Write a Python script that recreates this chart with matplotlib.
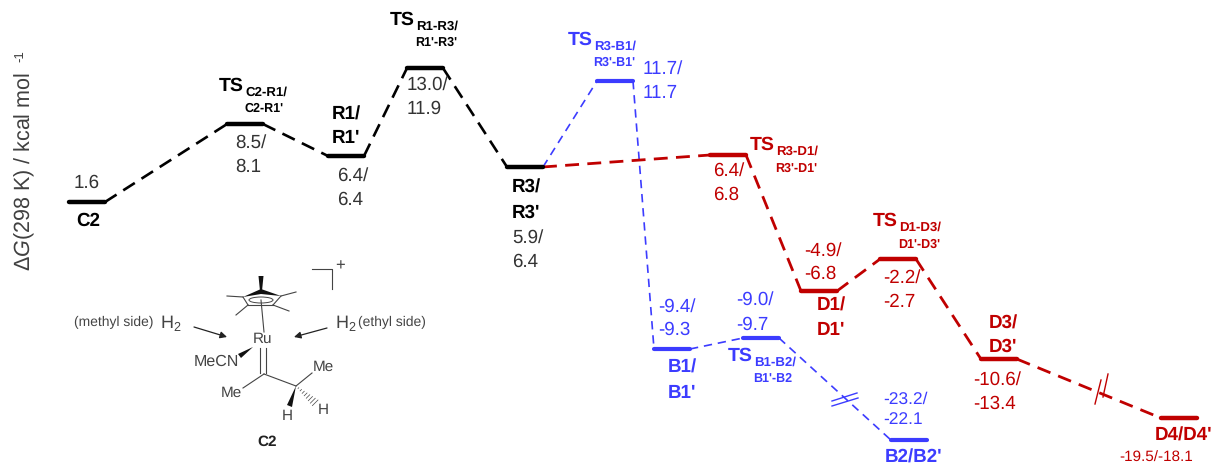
#!/usr/bin/python3

import matplotlib
matplotlib.use('Agg')
import matplotlib.pyplot as plt
from matplotlib.patches import Ellipse, Polygon

plt.rcParams['font.family'] = ['Liberation Sans', 'DejaVu Sans']
plt.rcParams['mathtext.fontset'] = 'custom'
plt.rcParams['mathtext.rm'] = 'Liberation Sans'
plt.rcParams['mathtext.it'] = 'Liberation Sans:italic'
plt.rcParams['mathtext.bf'] = 'Liberation Sans:bold'
plt.rcParams['text.hinting'] = 'no_hinting'

BLACK = '#000000'
BLUE = '#3c3cff'
RED = '#c00000'
GREY = '#333333'

# states along the reaction coordinate, level height as drawn (kcal/mol)
states = ['C2', 'TS_C2R1', 'R1', 'TS_R1R3', 'R3', 'TS_R3B1', 'B1', 'TS_B1B2', 'B2',
          'TS_R3D1', 'D1', 'TS_D1D3', 'D3', 'D4']
coord = [87, 245, 346, 425, 525, 615, 672, 761, 909, 728, 819, 898, 999, 1179]
drawn_g = [2.12, 8.44, 5.85, 12.98, 4.96, 11.93, -9.80, -8.91, -17.19,
           5.93, -5.10, -2.51, -10.62, -15.40]

black_path = ['C2', 'TS_C2R1', 'R1', 'TS_R1R3', 'R3']
blue_path = ['R3', 'TS_R3B1', 'B1', 'TS_B1B2', 'B2']
red_path = ['R3', 'TS_R3D1', 'D1', 'TS_D1D3', 'D3', 'D4']

half_width = 18

fig = plt.figure(figsize=(12.17, 4.67), dpi=100)
ax = fig.add_axes([0, 0, 1, 1])
ax.set_xlim(0, 1217)
ax.set_ylim(-19.37, 18.5)
ax.axis('off')

# pixel overlay for the texts and the molecule
ov = fig.add_axes([0, 0, 1, 1])
ov.set_xlim(0, 1217)
ov.set_ylim(467, 0)
ov.axis('off')
ov.patch.set_alpha(0)

pos = dict(zip(states, zip(coord, drawn_g)))


def draw_path(path, color, lw, dashes, level_lw):
    for a, b in zip(path[:-1], path[1:]):
        xa, ya = pos[a]
        xb, yb = pos[b]
        ax.plot([xa + half_width, xb - half_width], [ya, yb], color=color, lw=lw,
                dashes=dashes, dash_capstyle='butt')
    for s in path[1:]:
        x, y = pos[s]
        ax.plot([x - half_width, x + half_width], [y, y], color=color, lw=level_lw,
                solid_capstyle='round')


draw_path(blue_path, BLUE, 1.2, (5, 3.5), 3.0)
draw_path(red_path, RED, 2.0, (5, 3), 3.2)
draw_path(black_path, BLACK, 1.9, (5.2, 3), 3.2)
ax.plot([pos['C2'][0] - half_width, pos['C2'][0] + half_width], [pos['C2'][1]] * 2,
        color=BLACK, lw=3.2, solid_capstyle='round')


def txt(x, y, s, color=GREY, size=13.5, weight='normal', ha='left'):
    ov.text(x, y, s, color=color, fontsize=size, fontweight=weight, ha=ha, va='center')


def ts(x, y, sub1, sub2, color):
    txt(x, y, 'TS', color, 14, 'bold')
    txt(x + 26, y + 6, sub1, color, 9.5, 'bold')
    txt(x + 25, y + 23, sub2, color, 9, 'bold')


ov.text(25, 271, r'$\Delta G$(298 K) / kcal mol', color='#404040', fontsize=15.5,
        rotation=90, ha='center', va='bottom')
ov.text(20, 50, '-1', color='#404040', fontsize=9.5, rotation=90, ha='center', va='top')

# black part
txt(74, 183, '1.6')
txt(76, 221, 'C2', BLACK, 13.5, 'bold')
ts(219, 86, 'C2-R1/', "C2-R1'", BLACK)
txt(235, 143, '8.5/')
txt(235, 167, '8.1')
txt(332, 115, 'R1/', BLACK, 13.5, 'bold')
txt(332, 138, "R1'", BLACK, 13.5, 'bold')
txt(337, 176, '6.4/')
txt(337, 200, '6.4')
ts(390, 20, 'R1-R3/', "R1'-R3'", BLACK)
txt(407, 85, '13.0/')
txt(407, 109, '11.9')
txt(512, 188, 'R3/', BLACK, 13.5, 'bold')
txt(512, 213, "R3'", BLACK, 13.5, 'bold')
txt(512, 238, '5.9/')
txt(512, 262, '6.4')

# blue part
ts(568, 40, 'R3-B1/', "R3'-B1'", BLUE)
txt(643, 69, '11.7/', BLUE)
txt(643, 93, '11.7', BLUE)
txt(658, 307, '-9.4/', BLUE)
txt(658, 330, '-9.3', BLUE)
txt(668, 368, 'B1/', BLUE, 13.5, 'bold')
txt(668, 393, "B1'", BLUE, 13.5, 'bold')
txt(736, 300, '-9.0/', BLUE)
txt(736, 325, '-9.7', BLUE)
ts(728, 356, 'B1-B2/', "B1'-B2", BLUE)
txt(883, 399, '-23.2/', BLUE, 12.5)
txt(883, 420, '-22.1', BLUE, 12.5)
txt(885, 458, "B2/B2'", BLUE, 13.5, 'bold')
ov.plot([832, 857], [401, 393], color=BLUE, lw=1)
ov.plot([832, 858], [406, 398], color=BLUE, lw=1)

# red part
ts(750, 145, 'R3-D1/', "R3'-D1'", RED)
txt(713, 171, '6.4/', RED)
txt(713, 195, '6.8', RED)
txt(804, 251, '-4.9/', RED)
txt(804, 274, '-6.8', RED)
txt(817, 306, 'D1/', RED, 13.5, 'bold')
txt(817, 330, "D1'", RED, 13.5, 'bold')
ts(873, 221, 'D1-D3/', "D1'-D3'", RED)
txt(883, 278, '-2.2/', RED)
txt(883, 302, '-2.7', RED)
txt(989, 324, 'D3/', RED, 13.5, 'bold')
txt(989, 347, "D3'", RED, 13.5, 'bold')
txt(973, 380, '-10.6/', RED)
txt(973, 404, '-13.4', RED)
txt(1155, 436, "D4/D4'", RED, 13.5, 'bold')
txt(1119, 458, '-19.5/-18.1', RED, 11)
ov.plot([1095, 1101], [404, 380], color=RED, lw=1)
ov.plot([1103, 1108], [397, 374], color=RED, lw=1)

# molecule
MOL = '#444444'
txt(74, 322, '(methyl side)', MOL, 10)
txt(160, 323, r'H$_2$', MOL, 13)
txt(335, 323, r'H$_2$', MOL, 13)
txt(358, 322, '(ethyl side)', MOL, 10)
txt(263, 339, 'Ru', MOL, 11, ha='center')
txt(216, 362, 'MeCN', MOL, 11.5, ha='center')
txt(323, 367, 'Me', MOL, 11, ha='center')
txt(231, 393, 'Me', MOL, 11, ha='center')
txt(287, 416, 'H', MOL, 11, ha='center')
txt(323, 410, 'H', MOL, 11, ha='center')
txt(267, 442, 'C2', '#222222', 11, 'bold', ha='center')
txt(340, 266, '+', MOL, 12, ha='center')

ov.plot([312, 332, 332], [269, 269, 289], color=MOL, lw=0.8)
for xs, ys in [([227, 243], [296, 297]), ([296, 281], [292, 296]), ([236, 248], [315, 305]),
               ([289, 273], [311, 305]), ([261, 264], [300, 332]), ([243, 248], [297, 305]),
               ([248, 273], [305, 305]), ([273, 281], [305, 296]),
               ([260, 260], [348, 373]), ([266, 266], [348, 373]),
               ([264, 243], [374, 388]), ([264, 296], [374, 386]), ([296, 312], [386, 373])]:
    ov.plot(xs, ys, color=MOL, lw=0.8)
ov.add_patch(Polygon([(243, 297), (261, 289), (281, 296), (261, 294)], color='#111111', lw=0))
ov.add_patch(Polygon([(258.5, 276), (263.5, 276), (262, 291), (260, 291)], color='#111111', lw=0))
ov.add_patch(Polygon([(253, 347), (238, 354), (241, 358)], color='#111111', lw=0))
ov.add_patch(Polygon([(296, 386), (287, 405), (292, 407)], color='#111111', lw=0))
ov.add_patch(Ellipse((261, 300), 24, 6, fill=False, ec=MOL, lw=0.7))
ov.annotate('', xy=(227, 337), xytext=(194, 327),
            arrowprops=dict(arrowstyle='-|>', color='#222222', lw=0.9, shrinkA=0, shrinkB=0))
ov.annotate('', xy=(294, 337), xytext=(327, 328),
            arrowprops=dict(arrowstyle='-|>', color='#222222', lw=0.9, shrinkA=0, shrinkB=0))
for i in range(1, 9):
    hx = 296 + i * 2.4
    hy = 386 + i * 2.1
    ov.plot([hx - i * 0.35, hx + i * 0.35], [hy + i * 0.35, hy - i * 0.35], color=MOL, lw=0.5)

fig.savefig('out.png', dpi=100)
